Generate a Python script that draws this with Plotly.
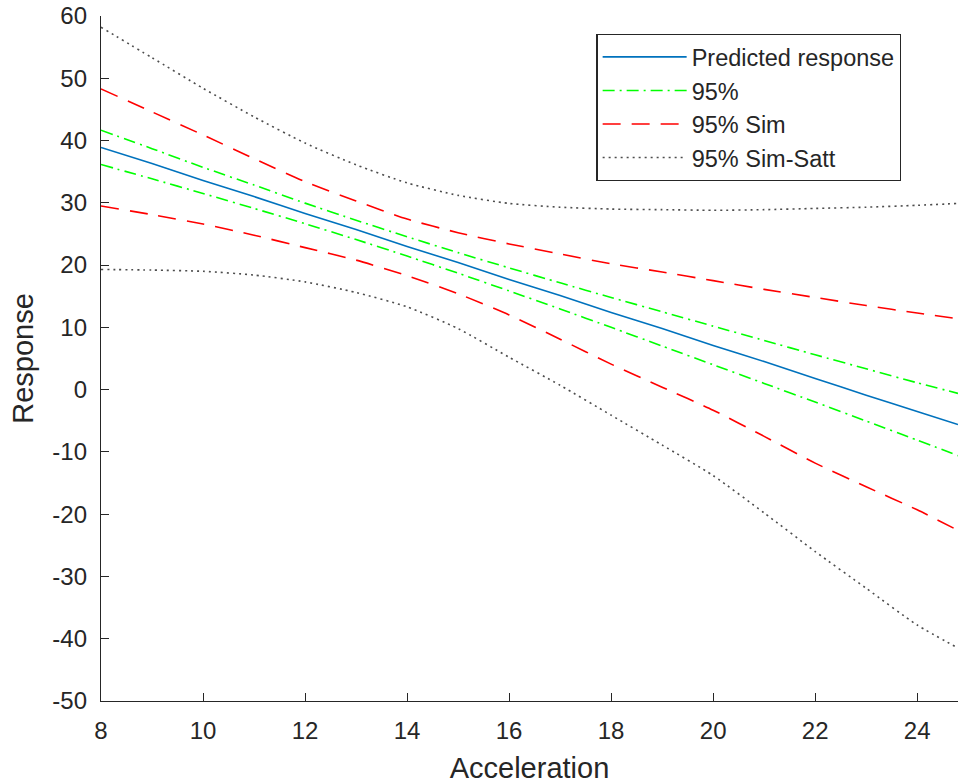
import plotly.graph_objects as go

acceleration = [8, 9, 10, 11, 12, 13, 14, 15, 16, 17, 18, 19, 20, 21, 22, 23, 24, 24.8]
predicted = [38.9, 36.3, 33.6, 31.0, 28.3, 25.7, 23.0, 20.4, 17.7, 15.1, 12.4, 9.8, 7.1, 4.5, 1.8, -0.9, -3.5, -5.6]
ci95_upper = [41.65, 38.7, 35.7, 32.85, 29.95, 27.2, 24.55, 22.0, 19.55, 17.15, 14.8, 12.5, 10.2, 7.9, 5.6, 3.35, 1.1, -0.6]
ci95_lower = [36.15, 33.85, 31.5, 29.1, 26.65, 24.1, 21.45, 18.7, 15.85, 12.95, 10.0, 7.0, 4.0, 1.0, -2.0, -5.05, -8.1, -10.6]
sim_upper = [48.3, 44.6, 40.9, 37.1, 33.4, 30.3, 27.4, 25.2, 23.4, 21.8, 20.2, 18.9, 17.5, 16.1, 14.8, 13.5, 12.3, 11.4]
sim_lower = [29.5, 28.1, 26.6, 24.8, 22.8, 20.8, 18.3, 15.4, 12.0, 8.1, 4.1, 0.4, -3.3, -7.5, -11.8, -15.6, -19.3, -22.6]
satt_upper = [58.2, 53.3, 48.4, 43.8, 39.6, 36.1, 33.2, 31.2, 29.9, 29.3, 29.0, 28.9, 28.8, 28.9, 29.1, 29.3, 29.6, 29.9]
satt_lower = [19.3, 19.2, 19.0, 18.4, 17.3, 15.6, 13.3, 9.8, 5.2, 0.7, -4.1, -8.9, -13.8, -19.8, -26.0, -31.9, -37.8, -41.5]

x_ticks = [8, 10, 12, 14, 16, 18, 20, 22, 24]
y_ticks = [-50, -40, -30, -20, -10, 0, 10, 20, 30, 40, 50, 60]

FONT = "Liberation Sans, Arial, sans-serif"
AX = "#262626"

fig = go.Figure()

def add(y, name, color, dash, width, show, group):
    fig.add_trace(go.Scatter(
        x=acceleration, y=y, mode="lines", name=name,
        line=dict(color=color, dash=dash, width=width, shape="spline", smoothing=0.6),
        showlegend=show, legendgroup=group, hoverinfo="skip"))

add(predicted, "Predicted response", "#0072BD", "solid", 1.6, True, "p")
add(ci95_upper, "95%", "#00FF00", "12px,5px,2px,5px", 1.6, True, "c")
add(ci95_lower, "95%", "#00FF00", "12px,5px,2px,5px", 1.6, False, "c")
add(sim_upper, "95% Sim", "#FF0000", "18px,11px", 1.6, True, "s")
add(sim_lower, "95% Sim", "#FF0000", "18px,11px", 1.6, False, "s")
add(satt_upper, "95% Sim-Satt", "#4d4d4d", "2px,4px", 1.6, True, "t")
add(satt_lower, "95% Sim-Satt", "#4d4d4d", "2px,4px", 1.6, False, "t")

fig.update_layout(
    width=958, height=784,
    margin=dict(l=101, r=0, t=16, b=83, autoexpand=False),
    paper_bgcolor="white", plot_bgcolor="white",
    font=dict(family=FONT, color=AX, size=22),
    showlegend=True,
    legend=dict(
        x=0.578, y=0.974, xanchor="left", yanchor="top",
        bgcolor="white", bordercolor=AX, borderwidth=1.3,
        font=dict(family=FONT, size=23.5, color=AX),
        itemwidth=84, tracegroupgap=0,
    ),
    xaxis=dict(
        range=[8, 24.8], tickvals=x_ticks, ticktext=[str(v) for v in x_ticks],
        showgrid=False, zeroline=False, showline=True, linecolor=AX, linewidth=1.3,
        ticks="inside", ticklen=8, tickcolor=AX, tickwidth=1.3, ticklabelstandoff=8,
        ticklabeloverflow="allow",
        tickfont=dict(family=FONT, size=24, color=AX), automargin=False,
        title=dict(text="Acceleration", font=dict(family=FONT, size=29, color=AX), standoff=15),
    ),
    yaxis=dict(
        range=[-50, 60], tickvals=y_ticks, ticktext=[str(v) for v in y_ticks],
        showgrid=False, zeroline=False, showline=True, linecolor=AX, linewidth=1.3,
        ticks="inside", ticklen=8, tickcolor=AX, tickwidth=1.3, ticklabelstandoff=8,
        ticklabeloverflow="allow",
        tickfont=dict(family=FONT, size=24, color=AX), automargin=False,
        title=dict(text="Response", font=dict(family=FONT, size=29, color=AX), standoff=10),
    ),
)

fig.write_html(
    "out.html",
    config={"displayModeBar": False},
    post_script="document.body.style.margin='0';document.body.style.overflow='hidden';",
)
